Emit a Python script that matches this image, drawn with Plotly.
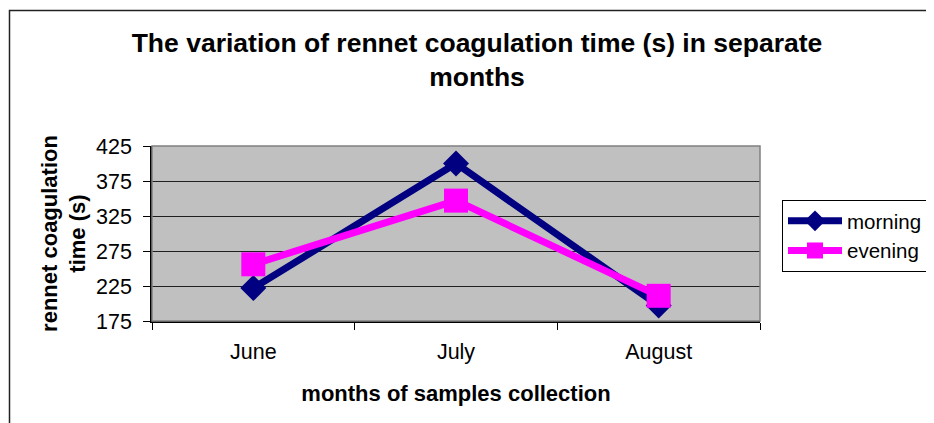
import plotly.graph_objects as go

months = ["June", "July", "August"]
morning = [222, 400, 197]
evening = [256, 347, 211]
y_ticks = [175, 225, 275, 325, 375, 425]

# figure is placed by the page with an 8px body margin; work in figure pixels
W, H = 926, 415
L, R, T, B = 144, 752, 138, 313

FONT = "Liberation Sans, Arial, sans-serif"
FS = 21.5

fig = go.Figure()
fig.add_trace(go.Scatter(
    x=months, y=morning, name="morning", mode="lines+markers",
    line=dict(color="#000080", width=7),
    marker=dict(symbol="diamond", size=20, color="#000080"),
))
fig.add_trace(go.Scatter(
    x=months, y=evening, name="evening", mode="lines+markers",
    line=dict(color="#FF00FF", width=7),
    marker=dict(symbol="square", size=24, color="#FF00FF"),
))

def px_x(px):
    return (px - L) / (R - L)

def px_y(py):
    return (B - py) / (B - T)

fig.update_layout(
    width=W, height=H,
    margin=dict(l=L, r=W - R, t=T, b=H - B, pad=0, autoexpand=False),
    paper_bgcolor="white",
    plot_bgcolor="#C0C0C0",
    font=dict(family=FONT, size=FS, color="black"),
    title=dict(
        text="<b>The variation of rennet coagulation time (s) in separate<br>months</b>",
        x=469 / W, xanchor="center", xref="container",
        y=1 - 44 / H, yanchor="middle", yref="container",
        font=dict(size=26.5, family=FONT, color="black"),
    ),
    showlegend=True,
    legend=dict(
        x=774 / W, xanchor="left", xref="container",
        y=1 - 192 / H, yanchor="top", yref="container",
        bordercolor="black", borderwidth=1, bgcolor="white",
        font=dict(size=20.5, family=FONT),
        itemwidth=54, tracegroupgap=0,
    ),
    shapes=[
        dict(type="rect", xref="paper", yref="paper",
             x0=px_x(1.5), x1=px_x(960),
             y0=px_y(440), y1=px_y(2.5),
             line=dict(color="#222222", width=1.5), layer="below"),
        dict(type="rect", xref="paper", yref="paper",
             x0=0, x1=1, y0=0, y1=1,
             line=dict(color="#808080", width=1.5), layer="above"),
    ],
)

fig.update_xaxes(
    type="category", range=[-0.5, 2.5],
    tickson="boundaries", ticks="outside", ticklen=7, tickcolor="black",
    ticklabelstandoff=10,
    showline=True, linecolor="black", linewidth=1.5,
    showgrid=False, zeroline=False,
    tickfont=dict(size=FS, family=FONT),
    title=dict(text="<b>months of samples collection</b>",
               font=dict(size=22, family=FONT), standoff=23),
)
fig.update_yaxes(
    range=[175, 425], tickvals=y_ticks,
    ticks="outside", ticklen=7, tickcolor="black",
    ticklabelstandoff=7,
    showline=True, linecolor="black", linewidth=1.5,
    showgrid=True, gridcolor="#202020", gridwidth=1,
    zeroline=False,
    tickfont=dict(size=FS, family=FONT),
    title=dict(text="<b>rennet coagulation<br>time (s)</b>",
               font=dict(size=22, family=FONT), standoff=4),
)

fig.write_html("out.html")
